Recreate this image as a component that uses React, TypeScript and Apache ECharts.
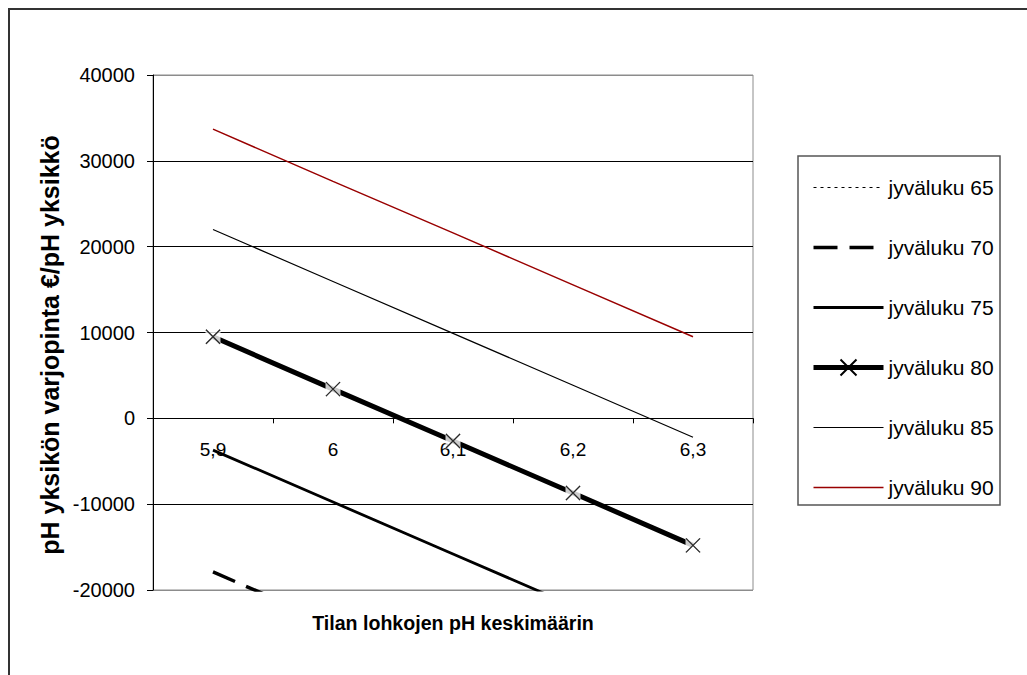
import React, { useEffect, useRef } from "react";
import * as echarts from "echarts";

const categories = ["5,9", "6", "6,1", "6,2", "6,3"];
const seriesNames = ["jyväluku 65", "jyväluku 70", "jyväluku 75", "jyväluku 80", "jyväluku 85", "jyväluku 90"];
const jv65 = [-32900, -38950, -45000, -51050, -57100];
const jv70 = [-17900, -23950, -30000, -36050, -42100];
const jv75 = [-3700, -9750, -15800, -21850, -27900];
const jv80 = [9500, 3400, -2650, -8700, -14800];
const jv85 = [22000, 15950, 9900, 3850, -2200];
const jv90 = [33700, 27600, 21600, 15550, 9500];

const yMin = -20000;
const yMax = 40000;
const yStep = 10000;
const xTitle = "Tilan lohkojen pH keskimäärin";
const yTitle = "pH yksikön varjopinta €/pH yksikkö";

const FONT = "'Liberation Sans', Arial, sans-serif";
const X_SYMBOL = "path://M0,0L10,10M10,0L0,10";

const GRID_TOP = 75;
const GRID_HEIGHT = 515;

export default function App() {
  const ref = useRef<HTMLDivElement>(null);
  useEffect(() => {
    if (!ref.current) return;
    const chart = echarts.init(ref.current, undefined, { renderer: "svg" });
    // shift the category axis up from the grid bottom to the value 0
    const zeroOffset = -GRID_HEIGHT * (0 - yMin) / (yMax - yMin);
    const hidden = { opacity: 0, color: "rgba(0,0,0,0)", borderColor: "rgba(0,0,0,0)" };
    const option: any = {
      animation: false,
      backgroundColor: "#fff",
      textStyle: { fontFamily: FONT, color: "#000" },
      grid: {
        left: 153,
        top: GRID_TOP,
        width: 600,
        height: GRID_HEIGHT,
        show: true,
        borderColor: "#8c8c8c",
        borderWidth: 1,
        backgroundColor: "transparent",
      },
      xAxis: {
        type: "category",
        data: categories,
        boundaryGap: true,
        position: "bottom",
        offset: zeroOffset,
        axisLine: { show: true, onZero: false, lineStyle: { color: "#000", width: 1 } },
        axisTick: { show: true, length: 5, lineStyle: { color: "#000" } },
        axisLabel: { fontSize: 19, color: "#000", margin: 22, fontFamily: FONT },
        splitLine: { show: false },
        z: 3,
      },
      yAxis: {
        type: "value",
        min: yMin,
        max: yMax,
        interval: yStep,
        axisLine: { show: true, lineStyle: { color: "#000", width: 1 } },
        axisTick: { show: true, length: 6, lineStyle: { color: "#000" } },
        axisLabel: {
          fontSize: 20,
          color: "#000",
          margin: 18,
          fontFamily: FONT,
          formatter: (v: number) => String(v),
        },
        splitLine: {
          show: true,
          lineStyle: {
            color: ["#8c8c8c", "#000", "#000", "#000", "#000", "#000", "#8c8c8c"],
            width: 1,
          },
        },
      },
      legend: {
        orient: "vertical",
        left: 811,
        top: 177,
        padding: 0,
        itemWidth: 70,
        itemHeight: 20,
        itemGap: 39,
        lineStyle: { width: "inherit", type: "inherit" },
        data: [
          { name: seriesNames[0], itemStyle: hidden },
          { name: seriesNames[1], itemStyle: hidden },
          { name: seriesNames[2], itemStyle: hidden },
          { name: seriesNames[3] },
          { name: seriesNames[4], itemStyle: hidden },
          { name: seriesNames[5], itemStyle: hidden },
        ],
        textStyle: { fontSize: 21, color: "#000", fontFamily: FONT, lineHeight: 20 },
      },
      series: [
        {
          name: seriesNames[0],
          type: "line",
          data: jv65,
          symbol: "none",
          color: "#000",
          lineStyle: { color: "#000", width: 1.2, type: [3, 4] },
          z: 2,
        },
        {
          name: seriesNames[1],
          type: "line",
          data: jv70,
          symbol: "none",
          color: "#000",
          lineStyle: { color: "#000", width: 3.5, type: [24, 12] },
          z: 2,
        },
        {
          name: seriesNames[2],
          type: "line",
          data: jv75,
          symbol: "none",
          color: "#000",
          lineStyle: { color: "#000", width: 2.8 },
          z: 2,
        },
        {
          name: seriesNames[3],
          type: "line",
          data: jv80,
          symbol: X_SYMBOL,
          symbolSize: 14,
          color: "#000",
          itemStyle: { color: "#000", borderColor: "#000", borderWidth: 1.3 },
          lineStyle: { color: "#000", width: 5 },
          z: 2,
        },
        {
          name: "mask80",
          type: "scatter",
          data: jv80,
          symbol: "rect",
          symbolSize: 15,
          itemStyle: { color: "#fff" },
          silent: true,
          z: 3,
        },
        {
          name: "x80",
          type: "scatter",
          data: jv80,
          symbol: X_SYMBOL,
          symbolSize: 14,
          itemStyle: { color: "#000", borderColor: "#000", borderWidth: 1.3 },
          silent: true,
          z: 4,
        },
        {
          name: seriesNames[4],
          type: "line",
          data: jv85,
          symbol: "none",
          color: "#000",
          lineStyle: { color: "#000", width: 1.2 },
          z: 2,
        },
        {
          name: seriesNames[5],
          type: "line",
          data: jv90,
          symbol: "none",
          color: "#990000",
          lineStyle: { color: "#990000", width: 1.5 },
          z: 2,
        },
      ],
      graphic: [
        {
          type: "rect",
          shape: { x: 9, y: 9, width: 1200, height: 900 },
          style: { fill: "none", stroke: "#333", lineWidth: 2 },
          silent: true,
        },
        {
          type: "rect",
          shape: { x: 798, y: 156, width: 202, height: 349 },
          style: { fill: "none", stroke: "#555", lineWidth: 1.5 },
          silent: true,
        },
        {
          type: "text",
          x: 50,
          y: 345,
          rotation: Math.PI / 2,
          style: {
            text: yTitle,
            font: `bold 25px ${FONT}`,
            fill: "#000",
            textAlign: "center",
            textVerticalAlign: "middle",
          },
        },
        {
          type: "text",
          x: 453,
          y: 623,
          style: {
            text: xTitle,
            font: `bold 19.6px ${FONT}`,
            fill: "#000",
            textAlign: "center",
            textVerticalAlign: "middle",
          },
        },
      ],
    };
    chart.setOption(option);
    return () => chart.dispose();
  }, []);
  return (
    <div
      ref={ref}
      style={{ position: "fixed", left: 0, top: 0, width: 1027, height: 675 }}
    />
  );
}
